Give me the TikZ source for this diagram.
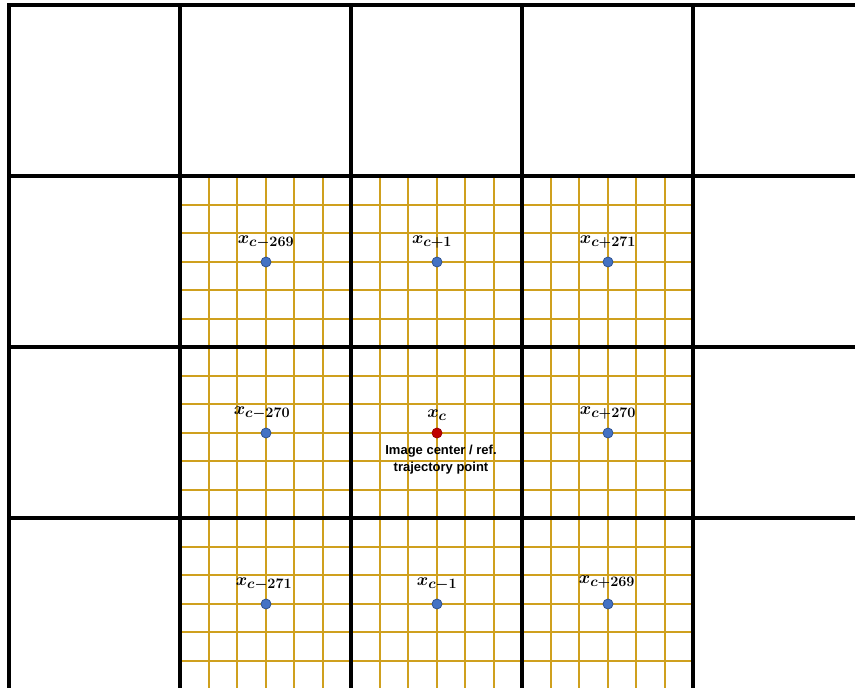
\documentclass[tikz,border=0pt]{standalone}
\usepackage{fontspec}
\usepackage{amsmath,bm}
\setsansfont{Liberation Sans}
\DeclareMathSizes{18}{18}{14}{10}
\definecolor{gold}{RGB}{207,160,30}
\definecolor{dotblue}{RGB}{68,114,196}
\definecolor{dotedge}{RGB}{47,82,143}
\definecolor{dotred}{RGB}{192,0,0}
\tikzset{
  fine/.style={draw=gold, line width=2pt},
  frame/.style={draw=black, line width=4pt},
  bluedot/.style={circle, inner sep=0pt, minimum size=10pt, fill=dotblue, draw=dotedge, line width=0.8pt},
  reddot/.style={circle, inner sep=0pt, minimum size=10pt, fill=dotred, draw=dotred!80!black, line width=0.8pt},
  lab/.style={font=\fontsize{18}{20}\selectfont, inner sep=0pt},
  caption/.style={font=\sffamily\bfseries\fontsize{13}{17}\selectfont, align=center, inner sep=0pt}
}
\begin{document}
\begin{tikzpicture}[x=1pt, y=-1pt]
\useasboundingbox (0,0) rectangle (855,688);
\clip (0,0) rectangle (855,688);
\fill[white] (0,0) rectangle (855,688);
% fine gold grid
\foreach \i in {0,...,18} {
  \pgfmathsetmacro{\gx}{round(180+\i*28.5)}
  \pgfmathsetmacro{\gy}{round(176+\i*28.5)}
  \draw[fine] (\gx,176) -- (\gx,690);
  \draw[fine] (180,\gy) -- (693,\gy);
}
% thick frame
\foreach \xx in {9,180,351,522,693} {
  \draw[frame] (\xx,3) -- (\xx,690);
}
\foreach \yy in {5,176,347,518} {
  \draw[frame] (7,\yy) -- (860,\yy);
}
% points
\node[bluedot, label={[lab, label distance=8pt]above:$\bm{x_{c-269}}$}] (p1) at (266,262) {};
\node[bluedot, label={[lab, label distance=8pt, xshift=-5pt]above:$\bm{x_{c+1}}$}] (p2) at (437,262) {};
\node[bluedot, label={[lab, label distance=8pt]above:$\bm{x_{c+271}}$}] (p3) at (608,262) {};
\node[bluedot, label={[lab, label distance=8pt, xshift=-4pt]above:$\bm{x_{c-270}}$}] (p4) at (266,433) {};
\node[reddot, label={[lab, label distance=7pt]above:$\bm{x_{c}}$}] (pc) at (437,433) {};
\node[bluedot, label={[lab, label distance=8pt]above:$\bm{x_{c+270}}$}] (p6) at (608,433) {};
\node[bluedot, label={[lab, label distance=8pt, xshift=-2pt]above:$\bm{x_{c-271}}$}] (p7) at (266,604) {};
\node[bluedot, label={[lab, label distance=8pt]above:$\bm{x_{c-1}}$}] (p8) at (437,604) {};
\node[bluedot, label={[lab, label distance=10pt, xshift=-1pt]above:$\bm{x_{c+269}}$}] (p9) at (608,604) {};
\node[caption, anchor=north] (cap) at ([xshift=4pt, yshift=-6pt]pc.south) {Image center / ref.\\trajectory point};
\end{tikzpicture}
\end{document}
